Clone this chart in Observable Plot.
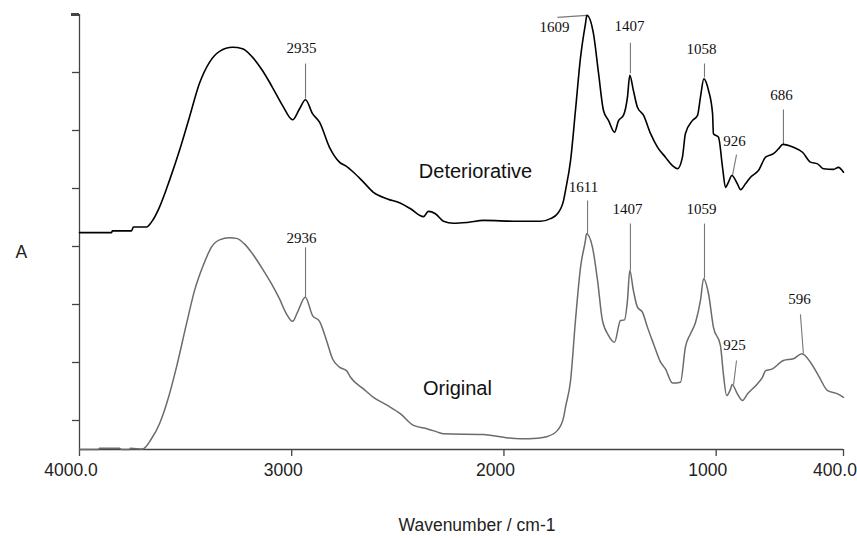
<!DOCTYPE html>
<html>
<head>
<meta charset="utf-8">
<script src="https://cdn.jsdelivr.net/npm/d3@7"></script>
<script src="https://cdn.jsdelivr.net/npm/@observablehq/plot@0.6"></script>
<style>
  html, body { margin: 0; padding: 0; background: #fff; }
  #chart svg { display: block; }
</style>
</head>
<body>
<div id="chart"></div>
<script>
// ---- Data ----
const wavenumberTicks = [4000, 3000, 2000, 1000, 400];
const absorbanceTicks = [0.1, 0.3, 0.5, 0.7, 0.9, 1.1, 1.3];
const absorbanceTopTick = [1.5];

// Deteriorative spectrum
const detWn = [4000, 3849, 3845, 3755, 3746, 3684, 3661, 3623, 3576, 3529, 3482, 3435, 3387, 3340, 3279, 3232, 3185, 3138, 3091, 3043, 2996, 2963, 2935, 2902, 2869, 2822, 2775, 2742, 2709, 2662, 2615, 2549, 2487, 2440, 2379, 2356, 2323, 2285, 2238, 2172, 2096, 1936, 1828, 1781, 1748, 1719, 1710, 1686, 1663, 1639, 1616, 1609, 1578, 1554, 1531, 1507, 1479, 1460, 1437, 1418, 1407, 1390, 1371, 1342, 1309, 1276, 1239, 1206, 1182, 1159, 1145, 1112, 1088, 1074, 1058, 1036, 1017, 1013, 989, 970, 956, 942, 926, 900, 885, 862, 838, 801, 767, 730, 706, 686, 636, 593, 556, 522, 494, 447, 424, 400];
const detA = [0.748, 0.748, 0.754, 0.754, 0.767, 0.767, 0.784, 0.836, 0.928, 1.031, 1.146, 1.262, 1.336, 1.373, 1.387, 1.382, 1.353, 1.307, 1.249, 1.186, 1.137, 1.175, 1.206, 1.158, 1.129, 1.042, 0.991, 0.976, 0.956, 0.922, 0.887, 0.864, 0.849, 0.830, 0.803, 0.821, 0.813, 0.787, 0.780, 0.783, 0.790, 0.787, 0.787, 0.796, 0.813, 0.859, 0.893, 0.997, 1.169, 1.353, 1.468, 1.497, 1.433, 1.296, 1.169, 1.134, 1.094, 1.134, 1.152, 1.215, 1.290, 1.238, 1.180, 1.152, 1.089, 1.042, 1.008, 0.979, 0.968, 1.008, 1.089, 1.134, 1.152, 1.215, 1.278, 1.238, 1.158, 1.089, 1.077, 0.973, 0.904, 0.922, 0.945, 0.916, 0.896, 0.916, 0.939, 0.962, 1.008, 1.020, 1.037, 1.052, 1.042, 1.025, 0.991, 0.985, 0.968, 0.966, 0.973, 0.956];

// Original spectrum
const origWn = [4000, 3910, 3906, 3812, 3802, 3764, 3760, 3703, 3661, 3623, 3585, 3543, 3496, 3458, 3420, 3378, 3340, 3293, 3260, 3223, 3185, 3138, 3095, 3058, 3025, 2996, 2973, 2936, 2902, 2869, 2836, 2808, 2775, 2742, 2723, 2662, 2615, 2549, 2487, 2426, 2360, 2313, 2285, 2096, 2002, 1922, 1842, 1795, 1748, 1719, 1710, 1686, 1663, 1639, 1616, 1611, 1583, 1559, 1536, 1507, 1479, 1451, 1432, 1418, 1407, 1390, 1371, 1347, 1324, 1295, 1262, 1239, 1206, 1168, 1145, 1121, 1097, 1074, 1059, 1036, 1013, 980, 966, 951, 932, 925, 900, 876, 852, 805, 782, 767, 735, 683, 636, 596, 556, 518, 475, 428, 400];
const origA = [0.000, 0.000, 0.004, 0.004, 0.000, 0.000, 0.004, 0.002, 0.037, 0.089, 0.169, 0.284, 0.433, 0.548, 0.629, 0.698, 0.723, 0.730, 0.728, 0.709, 0.675, 0.623, 0.571, 0.520, 0.468, 0.442, 0.473, 0.525, 0.462, 0.442, 0.376, 0.313, 0.284, 0.272, 0.249, 0.209, 0.180, 0.152, 0.123, 0.083, 0.071, 0.060, 0.054, 0.052, 0.042, 0.037, 0.039, 0.045, 0.066, 0.111, 0.146, 0.238, 0.445, 0.629, 0.721, 0.744, 0.698, 0.583, 0.445, 0.393, 0.370, 0.445, 0.447, 0.514, 0.617, 0.548, 0.491, 0.473, 0.422, 0.364, 0.301, 0.278, 0.229, 0.232, 0.353, 0.399, 0.439, 0.514, 0.589, 0.537, 0.422, 0.359, 0.261, 0.186, 0.209, 0.224, 0.192, 0.169, 0.192, 0.227, 0.249, 0.272, 0.278, 0.307, 0.313, 0.330, 0.301, 0.255, 0.203, 0.192, 0.180];

// Curve names and their label anchors (wavenumber, absorbance)
const curveNames = ["Deteriorative", "Original"];
const curveLabelWn = [2134, 2219];
const curveLabelA = [0.959, 0.210];

// Peak annotations: text, text anchor, leader line ends
const peakText   = ["2935", "1609", "1407", "1058", "926", "686", "2936", "1611", "1407", "1059", "925", "596"];
const peakTextWn = [2954, 1762, 1408, 1069, 914, 692, 2954, 1625, 1418, 1069, 914, 607];
const peakTextA  = [1.383, 1.455, 1.459, 1.379, 1.062, 1.221, 0.728, 0.903, 0.828, 0.828, 0.359, 0.517];
const leadWn1 = [2935, 1748, 1404, 1055, 904, 683, 2935, 1606, 1404, 1055, 904, 603];
const leadA1  = [1.331, 1.490, 1.403, 1.331, 1.017, 1.172, 0.697, 0.859, 0.779, 0.779, 0.307, 0.466];
const leadWn2 = [2935, 1609, 1404, 1055, 923, 683, 2935, 1606, 1404, 1055, 918, 589];
const leadA2  = [1.210, 1.497, 1.297, 1.283, 0.945, 1.052, 0.524, 0.745, 0.617, 0.590, 0.224, 0.331];

const xLabel = "Wavenumber / cm-1";
const yLabel = "A";

// ---- Build tables ----
const det = detWn.map((w, i) => ({wn: w, a: detA[i]}));
const orig = origWn.map((w, i) => ({wn: w, a: origA[i]}));
const curveLabels = curveNames.map((n, i) => ({name: n, wn: curveLabelWn[i], a: curveLabelA[i]}));
const peaks = peakText.map((t, i) => ({
  text: t, tw: peakTextWn[i], ta: peakTextA[i],
  w1: leadWn1[i], a1: leadA1[i], w2: leadWn2[i], a2: leadA2[i]
}));
const fmt = d => (d === 4000 || d === 400) ? d.toFixed(1) : String(d);

const axisColor = "#444";
const sans = "'Liberation Sans', Arial, sans-serif";
const serif = "'Liberation Serif', 'Times New Roman', serif";

const chart = Plot.plot({
  width: 857,
  height: 538,
  marginLeft: 79,
  marginRight: 14,
  marginTop: 14,
  marginBottom: 89,
  style: {fontFamily: sans, background: "#fff", overflow: "visible"},
  x: {domain: [4000, 400], axis: null},
  y: {domain: [0, 1.5], axis: null},
  marks: [
    // axes lines
    Plot.ruleY([0], {stroke: axisColor, strokeWidth: 1.3}),
    Plot.ruleX([4000], {stroke: axisColor, strokeWidth: 1.3}),
    Plot.axisX({ticks: wavenumberTicks, tickSize: 7, tickFormat: () => "", label: null, stroke: axisColor, strokeWidth: 1.3}),
    Plot.text(wavenumberTicks, {x: d => d, text: fmt, frameAnchor: "bottom", dy: 26, dx: -8.5, fontSize: 17.5, fill: "#222"}),
    Plot.axisY({ticks: absorbanceTicks, tickSize: 7, tickFormat: () => "", label: null, stroke: axisColor, strokeWidth: 1.3}),
    Plot.axisY({ticks: absorbanceTopTick, tickSize: 8, tickFormat: () => "", label: null, stroke: axisColor, strokeWidth: 3}),
    Plot.text([xLabel], {frameAnchor: "bottom", dy: 81, dx: 15.5, fontSize: 17.5, fill: "#222"}),
    Plot.text([yLabel], {frameAnchor: "left", dx: -64, dy: 20.5, fontSize: 17.5, fill: "#222"}),
    // leader lines
    Plot.link(peaks, {x1: "w1", y1: "a1", x2: "w2", y2: "a2", stroke: "#777", strokeWidth: 1.1}),
    // spectra
    Plot.line(orig, {x: "wn", y: "a", stroke: "#6b6b6b", strokeWidth: 1.5, curve: "monotone-x"}),
    Plot.line(det, {x: "wn", y: "a", stroke: "#000", strokeWidth: 1.6, curve: "monotone-x"}),
    // peak labels
    Plot.text(peaks, {x: "tw", y: "ta", text: "text", fontFamily: serif, fontSize: 15, fill: "#111"}),
    // curve labels
    Plot.text(curveLabels, {x: "wn", y: "a", text: "name", fontSize: 20, fill: "#111"})
  ]
});
document.getElementById("chart").appendChild(chart);
</script>
</body>
</html>
